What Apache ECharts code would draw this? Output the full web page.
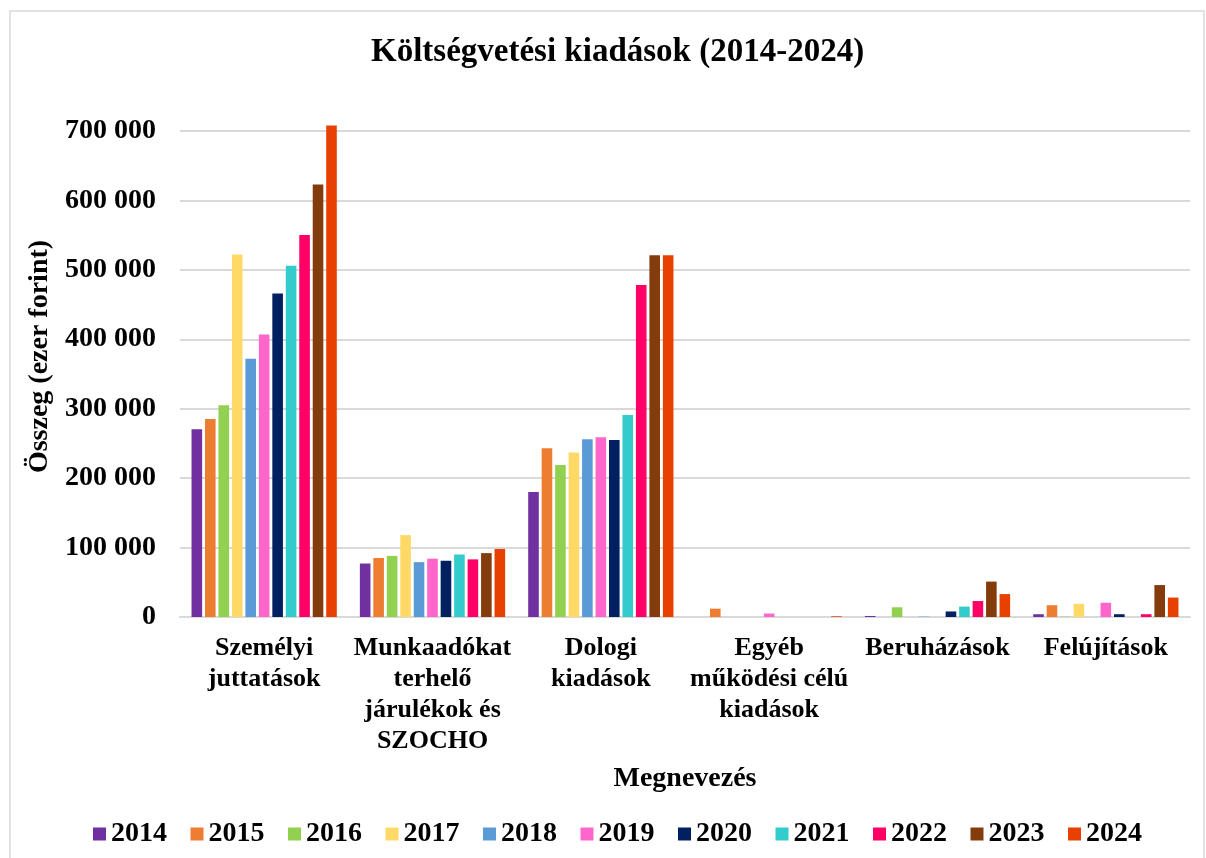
<!DOCTYPE html>
<html>
<head>
<meta charset="utf-8">
<title>Költségvetési kiadások</title>
<script src="https://cdn.jsdelivr.net/npm/echarts@6/dist/echarts.min.js"></script>
<style>
  html, body { margin: 0; padding: 0; background: #fff; }
  #chart { width: 1206px; height: 858px; }
</style>
</head>
<body>
<div id="chart"></div>
<script>
// kategóriák (x tengely)
const categories = [
  "Személyi\njuttatások",
  "Munkaadókat\nterhelő\njárulékok és\nSZOCHO",
  "Dologi\nkiadások",
  "Egyéb\nműködési célú\nkiadások",
  "Beruházások",
  "Felújítások"
];
const years = ["2014", "2015", "2016", "2017", "2018", "2019", "2020", "2021", "2022", "2023", "2024"];
const yTicks = [0, 100000, 200000, 300000, 400000, 500000, 600000, 700000];

// értékek évenként (ezer forint)
const v2014 = [270500, 77000, 180000, 0, 1500, 4000];
const v2015 = [285000, 85000, 243000, 12000, 0, 17000];
const v2016 = [305000, 88000, 219000, 0, 14000, 500];
const v2017 = [522000, 118000, 237000, 0, 0, 19000];
const v2018 = [372000, 79000, 256000, 0, 500, 0];
const v2019 = [407000, 84000, 259000, 5000, 0, 20500];
const v2020 = [466000, 81000, 255000, 0, 8000, 4000];
const v2021 = [506000, 90000, 291000, 0, 15000, 0];
const v2022 = [550000, 83000, 478000, 0, 23000, 4000];
const v2023 = [623000, 92000, 521000, 0, 51000, 46000];
const v2024 = [708000, 98000, 521000, 1000, 33000, 28000];

const values = [v2014, v2015, v2016, v2017, v2018, v2019, v2020, v2021, v2022, v2023, v2024];
const colors = ["#7030A0", "#ED7D31", "#92D050", "#FFD966", "#5B9BD5", "#FF66CC",
                "#002060", "#33CCCC", "#FF0066", "#843C0C", "#E84000"];

const font = "'Liberation Serif', 'Times New Roman', serif";

const myChart = echarts.init(document.getElementById("chart"));

const series = years.map((y, i) => ({
  name: y,
  type: "bar",
  data: values[i],
  barGap: "27%",
  barCategoryGap: "13.7%",
  itemStyle: { color: colors[i] }
}));

myChart.setOption({
  animation: false,
  color: colors,
  // külső keret
  graphic: [{
    type: "rect",
    shape: { x: 10, y: 11, width: 1194, height: 860 },
    style: { fill: null, stroke: "#d9d9d9", lineWidth: 1.5 },
    silent: true
  }],
  title: {
    text: "Költségvetési kiadások (2014-2024)",
    left: 366,
    top: 31,
    textStyle: { fontFamily: font, fontSize: 33, fontWeight: "bold", color: "#000" }
  },
  legend: {
    left: 88,
    top: 815,
    itemWidth: 13,
    itemHeight: 13,
    itemGap: 23.5,
    icon: "rect",
    data: years,
    textStyle: { fontFamily: font, fontSize: 28, fontWeight: "bold", color: "#000" }
  },
  grid: {
    left: 180,
    right: 16,
    top: 124,
    bottom: 241
  },
  xAxis: {
    type: "category",
    data: categories,
    name: "Megnevezés",
    nameLocation: "middle",
    nameGap: 148,
    nameTextStyle: { fontFamily: font, fontSize: 28, fontWeight: "bold", color: "#000" },
    axisLine: { lineStyle: { color: "#d9d9d9", width: 2 } },
    axisTick: { show: false },
    axisLabel: {
      interval: 0,
      margin: 16,
      lineHeight: 31,
      fontFamily: font,
      fontSize: 26,
      fontWeight: "bold",
      color: "#000"
    }
  },
  yAxis: {
    type: "value",
    min: 0,
    max: 710000,
    interval: 100000,
    name: "Összeg (ezer forint)",
    nameLocation: "middle",
    nameGap: 117,
    nameTextStyle: {
      fontFamily: font, fontSize: 28, fontWeight: "bold", color: "#000",
      padding: [0, 0, 0, 28]
    },
    axisLine: { show: false },
    axisTick: { show: false },
    splitLine: { showMaxLine: false, lineStyle: { color: "#d9d9d9", width: 2 } },
    axisLabel: {
      margin: 24,
      showMaxLabel: false,
      fontFamily: font,
      fontSize: 28,
      fontWeight: "bold",
      color: "#000",
      formatter: v => yTicks.indexOf(v) < 0 ? "" : String(v).replace(/\B(?=(\d{3})+(?!\d))/g, " ")
    }
  },
  series: series
});
</script>
</body>
</html>
